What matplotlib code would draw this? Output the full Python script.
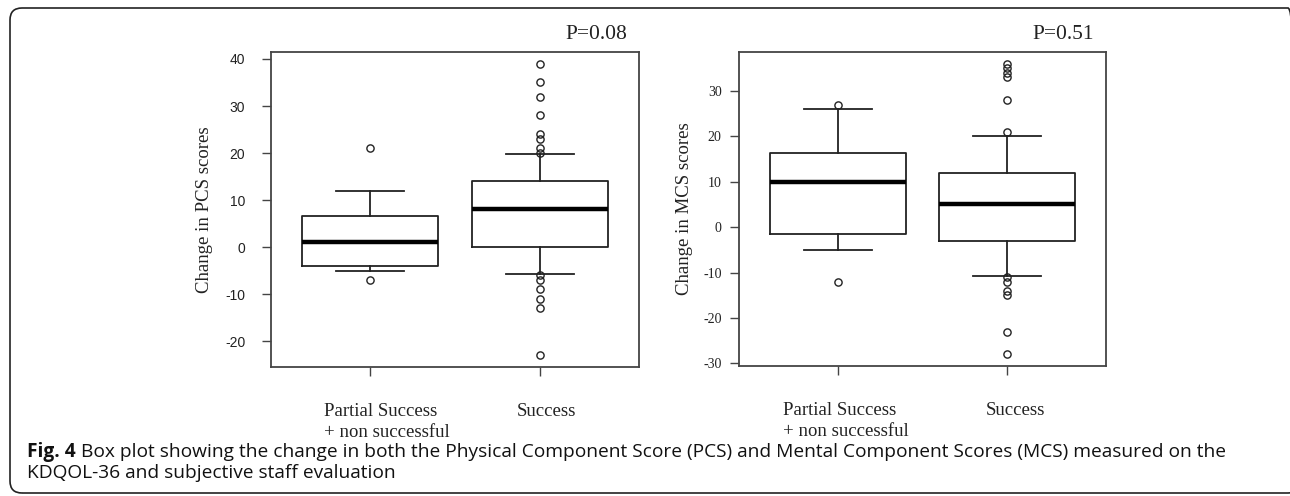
import matplotlib
matplotlib.use("Agg")
import matplotlib.pyplot as plt
from matplotlib.patches import FancyBboxPatch
from matplotlib.transforms import IdentityTransform, ScaledTranslation, blended_transform_factory

# ---------------- data ----------------
groups = ["Partial Success\n+ non successful", "Success"]

pcs_med = [1, 8]
pcs_q1 = [-4, 0]
pcs_q3 = [6.6, 14]
pcs_whislo = [-5, -5.8]
pcs_whishi = [12, 19.7]
pcs_fliers_partial = [21, -7]
pcs_fliers_success = [39, 35, 32, 28, 24, 23, 21, 20, -6, -7, -9, -11, -13, -23]
pcs_ylim = (-25.48, 41.48)
pcs_yticks = [-20, -10, 0, 10, 20, 30, 40]

mcs_med = [10, 5]
mcs_q1 = [-1.5, -3]
mcs_q3 = [16.4, 12]
mcs_whislo = [-5, -10.7]
mcs_whishi = [26, 20]
mcs_fliers_partial = [27, -12]
mcs_fliers_success = [36, 35, 34, 33, 28, 21, -11, -12, -14, -15, -23, -28]
mcs_ylim = (-30.56, 38.56)
mcs_yticks = [-30, -20, -10, 0, 10, 20, 30]

pcs_p = "P=0.08"
mcs_p = "P=0.51"
pcs_ylabel = "Change in PCS scores"
mcs_ylabel = "Change in MCS scores"
caption_bold = "Fig. 4"
caption_line1 = (" Box plot showing the change in both the Physical Component Score (PCS) "
                 "and Mental Component Scores (MCS) measured on the")
caption_line2 = "KDQOL-36 and subjective staff evaluation"

W, H = 1290, 496
fig = plt.figure(figsize=(W / 100, H / 100), dpi=100)

SERIF = ["Liberation Serif", "DejaVu Serif"]
SANS = ["Liberation Sans", "DejaVu Sans"]


def make_stats(med, q1, q3, lo, hi, fliers_list):
    out = []
    for i in range(len(med)):
        out.append(dict(med=med[i], q1=q1[i], q3=q3[i], whislo=lo[i], whishi=hi[i],
                        fliers=fliers_list[i]))
    return out


def draw_panel(rect, stats, ylim, yticks, ylabel, ptext, tickfont, tickpad, labx, lab_dx):
    ax = fig.add_axes(rect)
    ax.bxp(stats, positions=[1, 2], widths=0.8, showfliers=True,
           boxprops=dict(color="#222222", linewidth=1.3),
           whiskerprops=dict(color="#222222", linewidth=1.3, linestyle="-"),
           capprops=dict(color="#222222", linewidth=1.3),
           capwidths=0.4,
           medianprops=dict(color="black", linewidth=3.2, solid_capstyle="butt"),
           flierprops=dict(marker="o", markersize=5.2, markerfacecolor="none",
                           markeredgecolor="#222222", markeredgewidth=1.0))
    ax.set_xlim(0.42, 2.58)
    ax.set_ylim(*ylim)
    ax.set_yticks(yticks)
    ax.set_yticklabels([str(t) for t in yticks], fontfamily=tickfont, fontsize=10)
    ax.set_xticks([1, 2])
    ax.set_xticklabels(["", ""])
    # group labels placed under the ticks (data x, axes y) with pixel offsets
    base = blended_transform_factory(ax.transData, ax.transAxes)
    has = ["left", "center"]
    for i, g in enumerate(groups):
        tr = base + ScaledTranslation(lab_dx[i] / 100, -36 / 100, fig.dpi_scale_trans)
        ax.text(i + 1, 0, g, transform=tr, ha=has[i], va="top", multialignment="left",
                linespacing=1.3, fontfamily=SERIF, fontsize=13.5, color="#222222")
    for s in ax.spines.values():
        s.set_color("#444444")
        s.set_linewidth(1.3)
    ax.tick_params(axis="y", direction="out", length=6.5, width=1.0, color="#444444",
                   pad=tickpad, labelcolor="#222222")
    ax.tick_params(axis="x", direction="out", length=6.5, width=1.0, color="#444444")
    ax.set_ylabel(ylabel, fontfamily=SERIF, fontsize=13.5, color="#222222")
    ax.yaxis.set_label_coords(labx, 0.5)
    ax.text(0.967, 1.041, ptext, transform=ax.transAxes, ha="right", va="baseline",
            fontfamily=SERIF, fontsize=15.5, color="#222222")
    return ax


pcs_stats = make_stats(pcs_med, pcs_q1, pcs_q3, pcs_whislo, pcs_whishi,
                       [pcs_fliers_partial, pcs_fliers_success])
mcs_stats = make_stats(mcs_med, mcs_q1, mcs_q3, mcs_whislo, mcs_whishi,
                       [mcs_fliers_partial, mcs_fliers_success])

ax1 = draw_panel([271 / W, 1 - 367 / H, 368 / W, 315 / H], pcs_stats, pcs_ylim, pcs_yticks,
                 pcs_ylabel, pcs_p, SANS, 12, -0.158, (-46, 6))
ax2 = draw_panel([739 / W, 1 - 366 / H, 367 / W, 314 / H], mcs_stats, mcs_ylim, mcs_yticks,
                 mcs_ylabel, mcs_p, SERIF, 6, -0.125, (-55, 8))

# caption, sized so that line 1 spans the reference width
CAP = ["Open Sans", "DejaVu Sans"]
renderer = fig.canvas.get_renderer()
probe_b = fig.text(0, 0, caption_bold, fontfamily=CAP, fontweight="bold", fontsize=10)
probe_r = fig.text(0, 0, caption_line1, fontfamily=CAP, fontsize=10)
w10 = probe_b.get_window_extent(renderer).width + probe_r.get_window_extent(renderer).width
probe_b.remove()
probe_r.remove()
cap_size = 10 * (1225 - 27) / w10

tb = fig.text(27 / W, 1 - 452 / H, caption_bold, fontfamily=CAP, fontweight="bold",
              fontsize=cap_size, va="center", ha="left", color="#111111")
bb = tb.get_window_extent(renderer)
fig.text(bb.x1 / W, 1 - 452 / H, caption_line1, fontfamily=CAP, fontsize=cap_size,
         va="center", ha="left", color="#111111")
fig.text(27 / W, 1 - 473 / H, caption_line2, fontfamily=CAP, fontsize=cap_size,
         va="center", ha="left", color="#111111")

# rounded frame
frame = FancyBboxPatch((10, 3), 1290, 485, boxstyle="round,pad=0,rounding_size=12",
                       transform=IdentityTransform(), fill=False, edgecolor="#222222",
                       linewidth=1.2)
fig.patches.append(frame)

fig.savefig("out.png", dpi=100)
